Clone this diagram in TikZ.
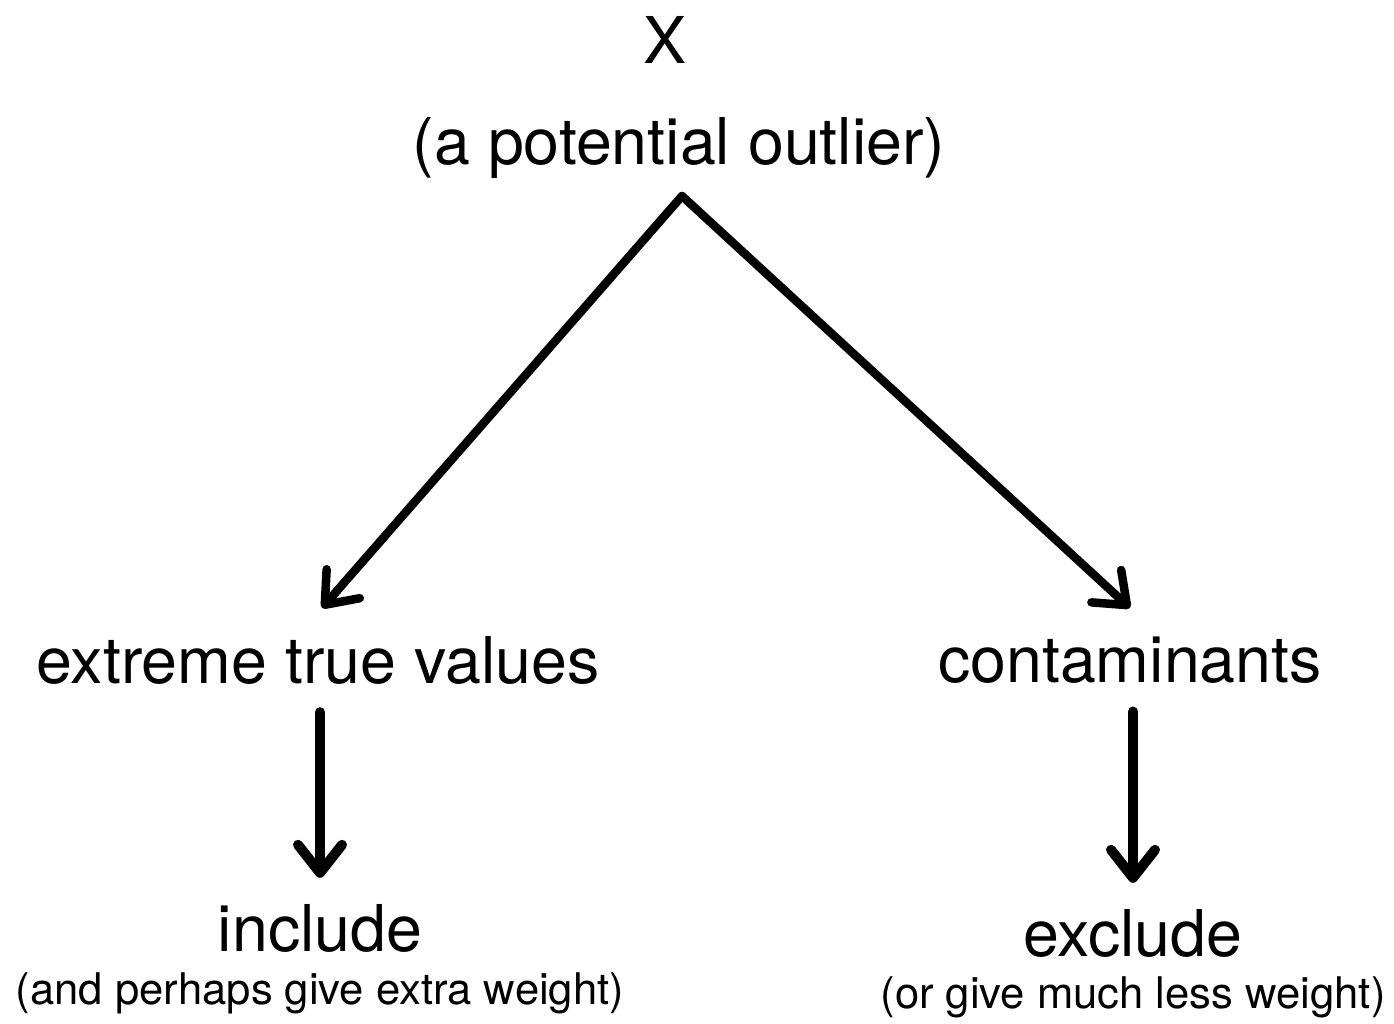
\documentclass[tikz,border=0pt]{standalone}
\usepackage{fontspec}
\setmainfont{TeX Gyre Heros}
\usetikzlibrary{positioning, arrows.meta}

\begin{document}
\begin{tikzpicture}[x=1pt,y=-1pt,>={Straight Barb[length=28pt,width=44pt,line cap=round,line join=round]}]

	\tikzset{big/.style={inner sep=0pt,font=\fontsize{64.5}{72}\selectfont},
		small/.style={inner sep=0pt,font=\fontsize{43.6}{50}\selectfont},
		arr/.style={->,line width=8.5pt,line cap=round,line join=round}}

	\useasboundingbox (0,0) rectangle (1394,1024);

	\node[big] (x) at (665,40) {X};
	\node[big] (outlier) at (679,148) {(a potential outlier)};
	\coordinate (top) at (682,196);

	\node[big] (extreme) at (318,660) {extreme true values};
	\node[big] (contam) at (1130,660) {contaminants};

	\node[big] (include) at (320,928) {include};
	\node[small] (incnote) at (320,993) {(and perhaps give extra weight)};
	\node[big] (exclude) at (1133,933) {exclude};
	\node[small] (excnote) at (1133,997) {(or give much less weight)};

	\coordinate (lend) at (322,608);
	\coordinate (rend) at (1130,608);
	\draw[arr] (top) -- (lend);
	\draw[arr] (top) -- (rend);

	\draw[arr,line width=10pt,shorten <=28pt,shorten >=26pt] (extreme.south -| include.north) -- (include.north);
	\draw[arr,line width=10pt,shorten <=28pt,shorten >=26pt] (contam.south -| exclude.north) -- (exclude.north);
\end{tikzpicture}
\end{document}
